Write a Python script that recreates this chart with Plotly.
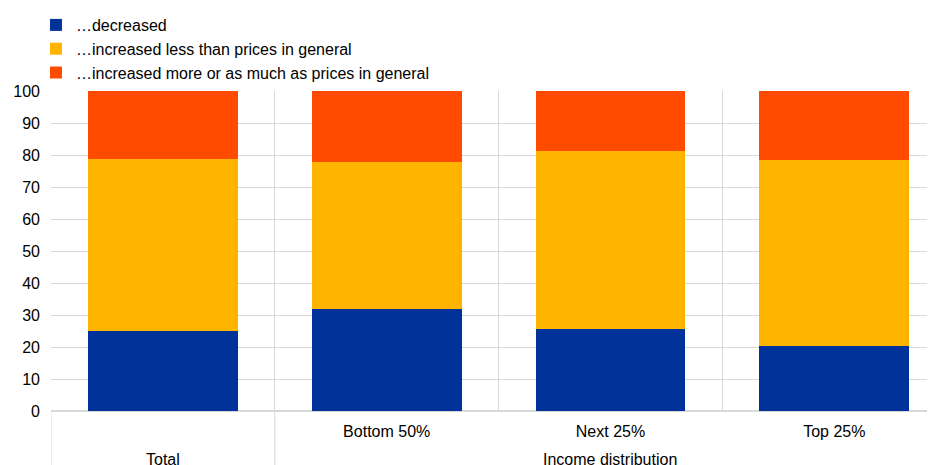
import plotly.graph_objects as go

# category labels
subcats = [" ", "Bottom 50%", "Next 25%", "Top 25%"]
group_labels = ["Total", "Income distribution"]
group_pos = [0, 2]          # category index where each group label sits
group_edges = [-0.5, 0.5]   # boundaries drawn through the label area

# shares of respondents (%)
decreased = [25.1, 31.9, 25.6, 20.4]
increased_less = [53.6, 45.8, 55.7, 58.1]
increased_more = [21.3, 22.3, 18.7, 21.5]

names = ["…decreased",
         "…increased less than prices in general",
         "…increased more or as much as prices in general"]
colors = ["#003299", "#FFB400", "#FF4B00"]
grid = "#d9d9d9"

fig = go.Figure()
for vals, name, col in zip([decreased, increased_less, increased_more], names, colors):
    fig.add_trace(go.Bar(x=subcats, y=vals, name=name,
                         marker=dict(color=col, line=dict(width=0))))

# group labels under the axis
for lab, pos in zip(group_labels, group_pos):
    fig.add_annotation(x=pos, y=-0.153, xref="x", yref="paper", text=lab,
                       showarrow=False, yanchor="middle", font=dict(size=16))

# group dividers extending below the axis
for e in group_edges:
    fig.add_shape(type="line", xref="x", yref="paper", x0=e, x1=e, y0=0, y1=-0.3,
                  line=dict(color=grid, width=1))

fig.update_layout(
    barmode="stack",
    bargap=0.33,
    width=935, height=465,
    margin=dict(l=43, r=8, t=83, b=62),
    paper_bgcolor="white", plot_bgcolor="white",
    font=dict(family="Arial, Liberation Sans, sans-serif", size=16, color="#000000"),
    legend=dict(x=-0.017, xanchor="left", y=1.0, yref="container", yanchor="top",
                traceorder="normal",
                font=dict(size=16), bgcolor="rgba(0,0,0,0)"),
    showlegend=True,
)
fig.update_xaxes(type="category", range=[-0.5, 3.45],
                 showgrid=True, gridcolor=grid, tickson="boundaries",
                 ticks="", showline=True, linecolor=grid, ticklabelstandoff=6,
                 automargin=False)
fig.update_yaxes(range=[0, 100], dtick=10, showgrid=True, gridcolor=grid,
                 zeroline=True, zerolinecolor=grid, ticks="", ticklabelstandoff=10,
                 automargin=False)

fig.write_html("out.html")
